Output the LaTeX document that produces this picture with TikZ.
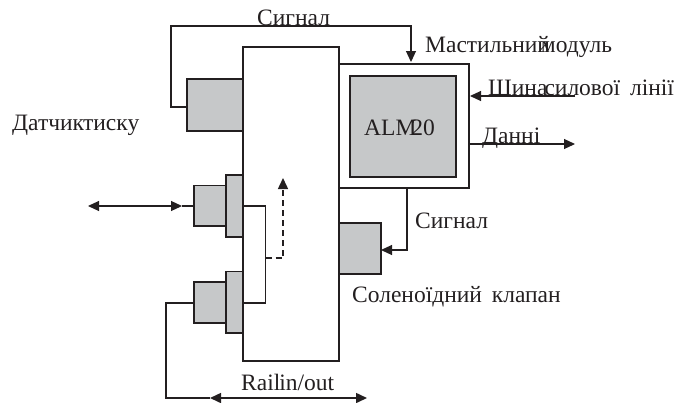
\documentclass[tikz,border=0pt]{standalone}
\usepackage{fontspec}
\setmainfont{Liberation Serif}
\usetikzlibrary{arrows.meta}
\definecolor{panel}{RGB}{198,200,201}
\definecolor{ink}{RGB}{35,31,32}
\tikzset{
  x=1pt,y=-1pt,
  line/.style={draw=ink,line width=1.1pt},
  graybox/.style={draw=ink,line width=1.1pt,fill=panel},
  whitebox/.style={draw=ink,line width=1.1pt,fill=white},
  tipA/.tip={Triangle[length=11pt,width=10pt,fill=ink]},
  arr/.style={line,-{tipA}},
  darr/.style={line,{tipA}-{tipA}},
  lbl/.style={text=ink,font=\fontsize{23.5}{26}\selectfont,inner sep=0pt,anchor=base west},
}
\begin{document}
\begin{tikzpicture}
\useasboundingbox (0,0) rectangle (677,402);
% main blocks
\path[whitebox] (243,47) rectangle (339,361);
\path[whitebox] (339,64) rectangle (469,188);
\path[graybox] (350,76) rectangle (456,177);
\path[graybox] (187,79) rectangle (243,131);
\path[graybox] (339,223) rectangle (381,274);
\path[graybox] (194,185.5) rectangle (226,226);
\path[graybox] (226,175) rectangle (243,237);
\path[graybox] (194,282) rectangle (226,323);
\path[graybox] (226,271.5) rectangle (243,333);
% named anchors
\coordinate (sensor) at (187,107);
\coordinate (modtop) at (411,62);
\coordinate (busfree) at (575,96);
\coordinate (bustip) at (470,96);
\coordinate (datafrom) at (469,144);
\coordinate (datato) at (575,144);
\coordinate (sigfrom) at (407,188);
\coordinate (solen) at (381,250);
\coordinate (c1l) at (194,206);
\coordinate (c1tip) at (182,206);
\coordinate (extl) at (88,206);
\coordinate (c1r) at (243,206);
\coordinate (c2r) at (243,303);
\coordinate (c2l) at (194,303);
\coordinate (tap) at (265.5,258);
\coordinate (uptip) at (283,178);
\coordinate (raill) at (210,398);
\coordinate (railr) at (367,398);
% connectors
\draw[arr] (sensor) -- (171,107) -- (171,26) -- (411,26) -- (modtop);
\draw[arr] (busfree) -- (bustip);
\draw[arr] (datafrom) -- (datato);
\draw[arr] (sigfrom) -- (407,250) -- (solen);
\draw[darr] (extl) -- (c1tip);
\draw[line] (c1tip) -- (c1l);
\draw[line] (c1r) -- (265.5,206) -- (265.5,303) -- (c2r);
\draw[arr,dash pattern=on 6pt off 4pt,line width=1.5pt] (tap) -- (283,258) -- (uptip);
\draw[line] (c2l) -- (166,303) -- (166,398) -- (raill);
\draw[darr,line width=1.5pt] (raill) -- (railr);
% labels
\node[lbl] (l1) at (257,25) {Сигнал};
\node[lbl] (l2) at (425,52) {Мастильний\kern-9pt модуль};
\node[lbl] (l3) at (488,95) {Шина\kern-3pt силової\kern4pt{} лінії};
\node[lbl] (l4) at (364,135) {ALM\kern-5pt 20};
\node[lbl] (l5) at (482,143) {Данні};
\node[lbl] (l6) at (12,130) {Датчик\kern-1pt тиску};
\node[lbl] (l7) at (415,228) {Сигнал};
\node[lbl] (l8) at (352,302) {Соленоїдний\kern4pt{} клапан};
\node[lbl] (l9) at (241,390) {Rail\kern-1pt in/out};
\end{tikzpicture}
\end{document}
